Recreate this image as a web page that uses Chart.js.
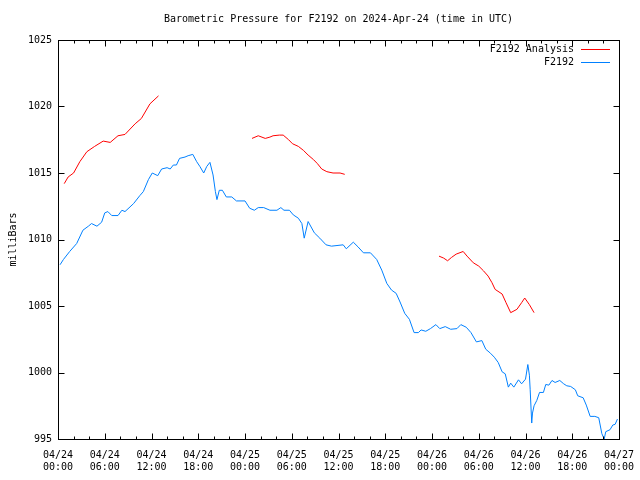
<!DOCTYPE html>
<html>
<head>
<meta charset="utf-8">
<script src="https://cdn.jsdelivr.net/npm/chart.js@4"></script>
<style>
  html, body { margin: 0; padding: 0; background: #fff; }
  #wrap { width: 640px; height: 480px; }
</style>
</head>
<body>
<div id="wrap"><canvas id="pressureChart" width="640" height="480"></canvas></div>
<script>
// hours since 2024-04-24 00:00 UTC, pressure in millibars
const stationHours = [0.26, 0.7, 1.5, 2.4, 3.2, 3.9, 4.3, 5.0, 5.6, 6.0, 6.4, 6.9, 7.7, 8.2, 8.6, 9.7, 10.5, 10.95, 11.6, 12.1, 12.8, 13.3, 14.0, 14.4, 14.8, 15.2, 15.6, 16.3, 16.7, 17.3, 17.8, 18.2, 18.7, 19.1, 19.5, 19.9, 20.2, 20.4, 20.7, 21.1, 21.6, 22.3, 22.9, 24.0, 24.6, 25.2, 25.7, 26.4, 27.2, 28.1, 28.6, 29.0, 29.7, 30.2, 30.85, 31.3, 31.6, 32.1, 32.9, 33.6, 34.4, 35.1, 36.6, 37.0, 37.9, 38.5, 39.2, 40.1, 40.9, 41.55, 42.2, 42.8, 43.4, 43.9, 44.5, 45.1, 45.7, 46.25, 46.6, 47.2, 47.8, 48.5, 49.0, 49.7, 50.4, 51.2, 51.7, 52.4, 53.0, 53.7, 54.4, 54.9, 55.5, 56.0, 56.5, 57.0, 57.4, 57.8, 58.1, 58.5, 59.1, 59.5, 60.0, 60.3, 60.5, 60.6, 60.8, 60.9, 61.1, 61.45, 61.8, 62.3, 62.6, 63.0, 63.4, 63.8, 64.4, 64.9, 65.3, 65.8, 66.4, 66.7, 67.4, 67.8, 68.3, 68.9, 69.4, 69.8, 70.1, 70.3, 70.85, 71.2, 71.5, 71.8];
const stationMb = [1008.1, 1008.5, 1009.1, 1009.7, 1010.7, 1011.0, 1011.2, 1011.0, 1011.3, 1012.0, 1012.1, 1011.8, 1011.8, 1012.2, 1012.1, 1012.7, 1013.3, 1013.6, 1014.5, 1015.0, 1014.8, 1015.3, 1015.4, 1015.3, 1015.6, 1015.6, 1016.1, 1016.2, 1016.3, 1016.4, 1015.85, 1015.5, 1015.0, 1015.5, 1015.8, 1014.85, 1013.6, 1013.0, 1013.7, 1013.7, 1013.2, 1013.2, 1012.9, 1012.9, 1012.35, 1012.2, 1012.4, 1012.4, 1012.2, 1012.2, 1012.4, 1012.2, 1012.2, 1011.85, 1011.6, 1011.2, 1010.1, 1011.35, 1010.5, 1010.1, 1009.6, 1009.5, 1009.6, 1009.3, 1009.8, 1009.45, 1009.0, 1009.0, 1008.5, 1007.7, 1006.7, 1006.2, 1005.95, 1005.3, 1004.45, 1004.0, 1003.0, 1003.0, 1003.2, 1003.1, 1003.3, 1003.6, 1003.3, 1003.45, 1003.25, 1003.3, 1003.6, 1003.4, 1003.0, 1002.3, 1002.4, 1001.75, 1001.45, 1001.15, 1000.75, 1000.05, 999.9, 998.9, 999.2, 998.9, 999.45, 999.15, 999.5, 1000.6, 999.8, 998.7, 996.2, 996.95, 997.5, 997.9, 998.5, 998.5, 999.1, 999.05, 999.4, 999.25, 999.4, 999.15, 999.0, 998.95, 998.7, 998.25, 998.1, 997.55, 996.7, 996.7, 996.6, 995.4, 995.0, 995.55, 995.7, 996.05, 996.1, 996.5];

// analysis runs, null marks a gap between runs
const analysisHours = [0.8, 1.3, 2.0, 2.8, 3.7, 4.7, 5.8, 6.7, 7.7, 8.6, 9.9, 10.7, 11.8, 12.9, 18.0,
  24.9, 25.7, 26.6, 27.2, 27.6, 28.4, 28.9, 29.6, 30.1, 30.85, 31.5, 32.1, 32.8, 33.3, 33.85, 34.5, 35.3, 36.2, 36.8, 42.0,
  48.9, 49.5, 50.0, 50.5, 51.1, 52.0, 52.5, 53.3, 54.0, 54.6, 55.2, 55.7, 56.1, 57.0, 57.5, 58.1, 58.9, 59.5, 59.9, 60.5, 61.1];
const analysisMb = [1014.2, 1014.7, 1015.0, 1015.85, 1016.6, 1017.0, 1017.4, 1017.3, 1017.8, 1017.9, 1018.7, 1019.1, 1020.2, 1020.8, null,
  1017.6, 1017.8, 1017.6, 1017.7, 1017.8, 1017.85, 1017.85, 1017.5, 1017.2, 1017.0, 1016.7, 1016.35, 1016.0, 1015.7, 1015.3, 1015.1, 1015.0, 1015.0, 1014.9, null,
  1008.75, 1008.6, 1008.4, 1008.65, 1008.9, 1009.1, 1008.75, 1008.25, 1008.0, 1007.65, 1007.25, 1006.75, 1006.25, 1005.9, 1005.25, 1004.5, 1004.75, 1005.25, 1005.6, 1005.1, 1004.5];

const xTickDates = ['04/24', '04/24', '04/24', '04/24', '04/25', '04/25', '04/25', '04/25', '04/26', '04/26', '04/26', '04/26', '04/27'];
const xTickTimes = ['00:00', '06:00', '12:00', '18:00', '00:00', '06:00', '12:00', '18:00', '00:00', '06:00', '12:00', '18:00', '00:00'];

const monoFont = { family: 'DejaVu Sans Mono', size: 10, weight: 'normal' };
const red = '#ff0000';
const blue = '#0080ff';

function toPoints(xs, ys) {
  return xs.map((h, i) => ({ x: h, y: ys[i] }));
}

// gnuplot-style box, inward ticks and legend
const frame = {
  id: 'frame',
  afterDatasetsDraw(chart) {
    const { ctx, chartArea, scales } = chart;
    const l = Math.round(chartArea.left) + 0.5;
    const r = Math.round(chartArea.right) + 0.5;
    const t = Math.round(chartArea.top) + 0.5;
    const b = Math.round(chartArea.bottom) + 0.5;
    ctx.save();
    ctx.strokeStyle = '#000';
    ctx.lineWidth = 1;
    ctx.strokeRect(l, t, r - l, b - t);
    ctx.beginPath();
    for (let h = 0; h <= 72; h += 2) {
      const px = Math.round(scales.x.getPixelForValue(h)) + 0.5;
      const len = h % 6 === 0 ? 6 : 3;
      ctx.moveTo(px, b); ctx.lineTo(px, b - len);
      ctx.moveTo(px, t); ctx.lineTo(px, t + len);
    }
    for (let v = 995; v <= 1025; v += 5) {
      const py = Math.round(scales.y.getPixelForValue(v)) + 0.5;
      ctx.moveTo(l, py); ctx.lineTo(l + 6, py);
      ctx.moveTo(r, py); ctx.lineTo(r - 6, py);
    }
    ctx.stroke();

    ctx.font = '10px "DejaVu Sans Mono"';
    ctx.textAlign = 'right';
    ctx.textBaseline = 'middle';
    chart.data.datasets.forEach((ds, i) => {
      const y = 49 + i * 13;
      ctx.fillStyle = '#000';
      ctx.fillText(ds.label, 574, y);
      ctx.fillStyle = ds.borderColor;
      ctx.fillRect(581, y, 29, 1);
    });
    ctx.restore();
  }
};

new Chart(document.getElementById('pressureChart'), {
  type: 'line',
  data: {
    datasets: [
      {
        label: 'F2192 Analysis',
        data: toPoints(analysisHours, analysisMb),
        borderColor: red,
        borderWidth: 1,
        pointRadius: 0,
        spanGaps: false,
        tension: 0,
      },
      {
        label: 'F2192',
        data: toPoints(stationHours, stationMb),
        borderColor: blue,
        borderWidth: 1,
        pointRadius: 0,
        tension: 0,
      },
    ],
  },
  options: {
    responsive: false,
    animation: false,
    layout: { padding: { top: 0, right: 21, bottom: 0, left: 0 } },
    plugins: {
      legend: { display: false },
      tooltip: { enabled: false },
      title: {
        display: true,
        fullSize: false,
        text: 'Barometric Pressure for F2192 on 2024-Apr-24 (time in UTC)',
        color: '#000',
        font: monoFont,
        padding: { top: 13, bottom: 15 },
      },
    },
    scales: {
      x: {
        type: 'linear',
        min: 0,
        max: 72,
        grid: { display: false, drawTicks: false },
        border: { display: false },
        ticks: {
          stepSize: 6,
          autoSkip: false,
          maxRotation: 0,
          padding: 10,
          color: '#000',
          font: monoFont,
          callback: (v) => [xTickDates[v / 6], xTickTimes[v / 6]],
        },
        afterFit: (scale) => {
          scale.height = 41;
          scale.paddingLeft = 0;
          scale.paddingRight = 0;
        },
      },
      y: {
        min: 995,
        max: 1025,
        grid: { display: false, drawTicks: false },
        border: { display: false },
        ticks: { stepSize: 5, padding: 6, color: '#000', font: monoFont, callback: (v) => String(v) },
        title: {
          display: true,
          text: 'milliBars',
          color: '#000',
          font: monoFont,
          padding: { top: 7, bottom: 0 },
        },
        afterFit: (scale) => { scale.width = 58; },
      },
    },
  },
  plugins: [frame],
});
</script>
</body>
</html>
